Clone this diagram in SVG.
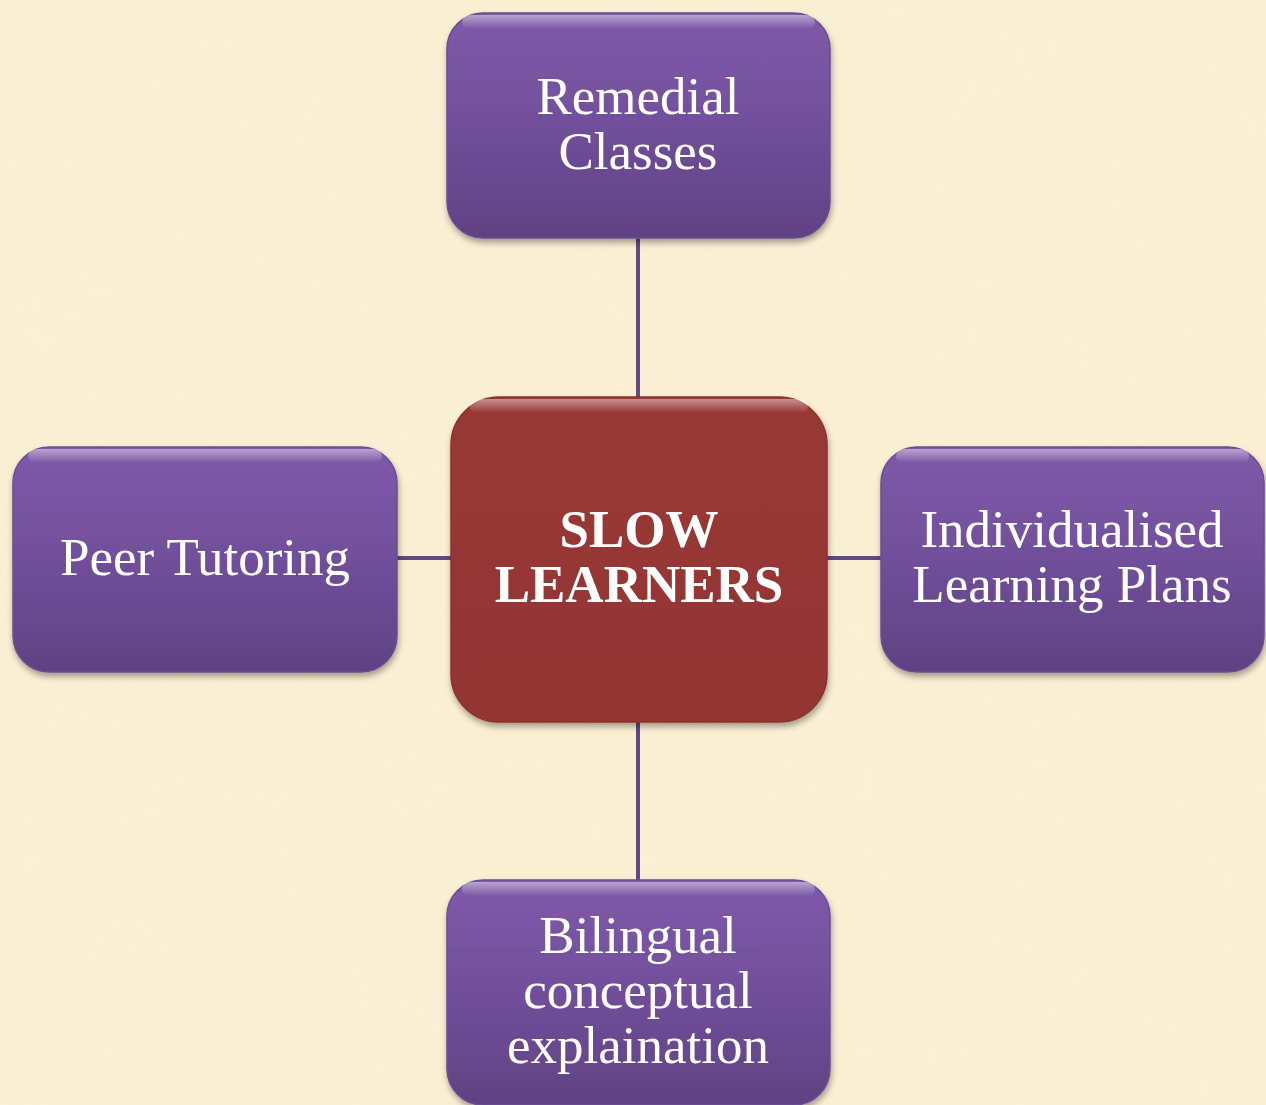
<svg xmlns="http://www.w3.org/2000/svg" width="1266" height="1105" viewBox="0 0 1266 1105">
<defs>
<linearGradient id="gp" x1="0" y1="0" x2="0" y2="1">
<stop offset="0" stop-color="#7e5aa9"/>
<stop offset="0.5" stop-color="#714f9b"/>
<stop offset="1" stop-color="#5f4283"/>
</linearGradient>
<linearGradient id="gr" x1="0" y1="0" x2="0" y2="1">
<stop offset="0" stop-color="#993836"/>
<stop offset="1" stop-color="#943533"/>
</linearGradient>
<linearGradient id="hl" x1="0" y1="0" x2="0" y2="1">
<stop offset="0" stop-color="#ffffff" stop-opacity="0.45"/>
<stop offset="1" stop-color="#ffffff" stop-opacity="0"/>
</linearGradient>
<filter id="sh" x="-10%" y="-10%" width="120%" height="125%">
<feGaussianBlur in="SourceAlpha" stdDeviation="3"/>
<feOffset dx="1" dy="4" result="b"/>
<feComponentTransfer><feFuncA type="linear" slope="0.35"/></feComponentTransfer>
<feMerge><feMergeNode/><feMergeNode in="SourceGraphic"/></feMerge>
</filter>
<filter id="tex" x="0" y="0" width="100%" height="100%">
<feTurbulence type="fractalNoise" baseFrequency="0.012" numOctaves="3" seed="4"/>
<feColorMatrix type="matrix" values="0 0 0 0 0.93  0 0 0 0 0.86  0 0 0 0 0.70  0 0 0 0.5 -0.1"/>
</filter>
</defs>
<style>
.bg{fill:#fbefd3}
.purple{fill:url(#gp);stroke:#6a4d93;stroke-width:1.5}
.red{fill:url(#gr);stroke:#8a302e;stroke-width:1.5}
.lbl{font-family:"Liberation Serif","Times New Roman",serif;font-size:53px;fill:#ffffff;text-anchor:middle}
.bold{font-weight:bold;font-size:53px}
.conn{stroke:#5f4a86;stroke-width:4;fill:none}
.top{fill:url(#hl)}
</style>
<rect class="bg" x="0" y="0" width="1266" height="1105"/>
<rect x="0" y="0" width="1266" height="1105" filter="url(#tex)" opacity="0.45"/>

<g id="connectors">
<line class="conn" x1="638" y1="238" x2="638" y2="398"/>
<line class="conn" x1="638" y1="721" x2="638" y2="881"/>
<line class="conn" x1="397" y1="558" x2="452" y2="558"/>
<line class="conn" x1="826" y1="558" x2="882" y2="558"/>
</g>

<g id="node-remedial" filter="url(#sh)">
<rect class="purple" x="447" y="13" width="383" height="225" rx="36"/>
<rect class="top" x="462" y="15" width="353" height="14" rx="7"/>
<text class="lbl" x="638" y="114">Remedial</text>
<text class="lbl" x="638" y="169">Classes</text>
</g>

<g id="node-center" filter="url(#sh)">
<rect class="red" x="451" y="397" width="376" height="325" rx="48"/>
<rect class="top" x="470" y="399" width="338" height="14" rx="7"/>
<text class="lbl bold" x="639" y="547">SLOW</text>
<text class="lbl bold" x="639" y="602">LEARNERS</text>
</g>

<g id="node-peer" filter="url(#sh)">
<rect class="purple" x="13" y="447" width="384" height="225" rx="36"/>
<rect class="top" x="28" y="449" width="354" height="14" rx="7"/>
<text class="lbl" x="205" y="575">Peer Tutoring</text>
</g>

<g id="node-individual" filter="url(#sh)">
<rect class="purple" x="881" y="447" width="383" height="225" rx="36"/>
<rect class="top" x="896" y="449" width="353" height="14" rx="7"/>
<text class="lbl" x="1072" y="547">Individualised</text>
<text class="lbl" x="1072" y="602">Learning Plans</text>
</g>

<g id="node-bilingual" filter="url(#sh)">
<rect class="purple" x="447" y="880" width="383" height="225" rx="36"/>
<rect class="top" x="462" y="882" width="353" height="14" rx="7"/>
<text class="lbl" x="638" y="953">Bilingual</text>
<text class="lbl" x="638" y="1008">conceptual</text>
<text class="lbl" x="638" y="1063">explaination</text>
</g>
</svg>
